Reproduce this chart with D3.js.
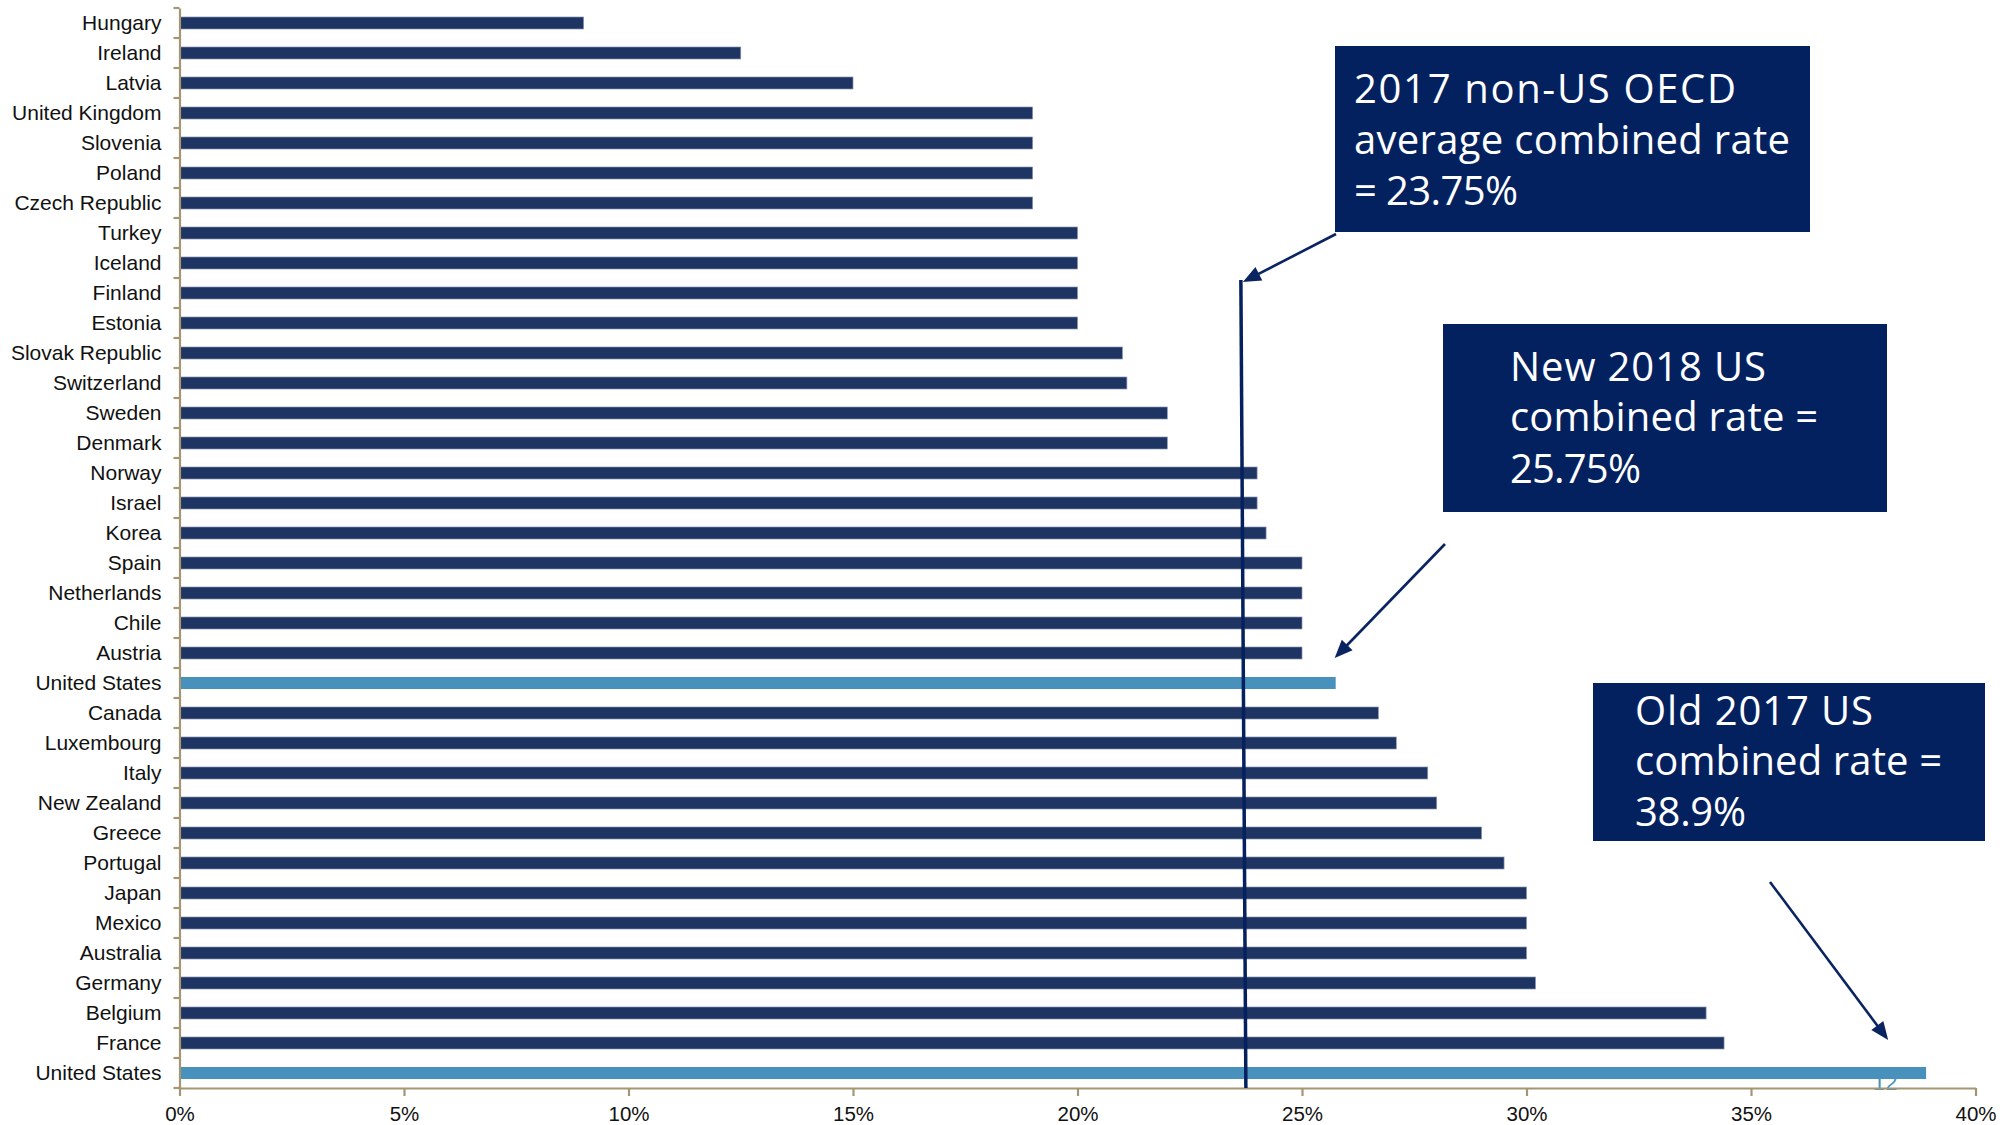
<!DOCTYPE html>
<html>
<head>
<meta charset="utf-8">
<script src="https://cdn.jsdelivr.net/npm/d3@7"></script>
<style>
  html, body { margin: 0; padding: 0; background: #fff; }
  svg { display: block; }
</style>
</head>
<body>
<svg id="chart" width="2011" height="1125"></svg>
<script>
// Combined corporate income tax rates, OECD countries
const countries = [
  "Hungary", "Ireland", "Latvia", "United Kingdom", "Slovenia", "Poland",
  "Czech Republic", "Turkey", "Iceland", "Finland", "Estonia", "Slovak Republic",
  "Switzerland", "Sweden", "Denmark", "Norway", "Israel", "Korea", "Spain",
  "Netherlands", "Chile", "Austria", "United States", "Canada", "Luxembourg",
  "Italy", "New Zealand", "Greece", "Portugal", "Japan", "Mexico", "Australia",
  "Germany", "Belgium", "France", "United States"
];
const rates = [
  9, 12.5, 15, 19, 19, 19,
  19, 20, 20, 20, 20, 21,
  21.1, 22, 22, 24, 24, 24.2, 25,
  25, 25, 25, 25.75, 26.7, 27.1,
  27.8, 28, 29, 29.5, 30, 30, 30,
  30.2, 34, 34.4, 38.9
];
const highlightCountry = "United States";
const xTicks = [0, 5, 10, 15, 20, 25, 30, 35, 40];

const oecdAverage = 23.75;
const usNewRate = 25.75;
const usOldRate = 38.9;

const noteAverage = ["2017 non-US OECD", "average combined rate", "= 23.75%"];
const noteNew = ["New 2018 US", "combined rate =", "25.75%"];
const noteOld = ["Old 2017 US", "combined rate =", "38.9%"];

const svg = d3.select("#chart");

const x = d3.scaleLinear().domain([0, 40]).range([179.5, 1975.5]);
const y = d3.scaleBand()
  .domain(d3.range(countries.length))
  .range([8, 1088])
  .paddingInner(0.6)
  .paddingOuter(0.3);

const axisColor = "#A39673";
const navy = "#1E3462";
const lightBlue = "#4891BC";
const noteFill = "#03215F";

// small page number partly hidden behind the last bar
svg.append("text")
  .attr("x", 1873).attr("y", 1090)
  .attr("font-family", "Liberation Sans, Arial, sans-serif")
  .attr("font-size", 22)
  .attr("fill", lightBlue)
  .text("12");

// bars
svg.append("g")
  .selectAll("rect")
  .data(rates)
  .join("rect")
  .attr("x", x(0))
  .attr("y", (d, i) => y(i))
  .attr("width", d => x(d) - x(0))
  .attr("height", y.bandwidth())
  .attr("fill", (d, i) => countries[i] === highlightCountry ? lightBlue : navy)
  .attr("stroke", (d, i) => countries[i] === highlightCountry ? "none" : "#8793AD")
  .attr("stroke-width", 0.7);

// x axis
const xAxis = svg.append("g")
  .attr("transform", `translate(0,${y.range()[1]})`)
  .call(d3.axisBottom(x).tickValues(xTicks).tickFormat(d => d + "%")
    .tickSize(8).tickSizeOuter(0).tickPadding(10.5));
xAxis.select(".domain").attr("stroke", axisColor).attr("stroke-width", 2.2);
xAxis.selectAll(".tick line").attr("stroke", axisColor).attr("stroke-width", 2.2);
xAxis.selectAll(".tick text")
  .attr("font-family", "Liberation Sans, Arial, sans-serif")
  .attr("font-size", 20.5)
  .attr("fill", "#111");

// y axis with ticks between categories
const yAxis = svg.append("g")
  .attr("transform", `translate(${x(0)},0)`)
  .call(d3.axisLeft(y).tickFormat(i => countries[i]).tickSize(0).tickSizeOuter(0).tickPadding(18));
yAxis.select(".domain").attr("stroke", axisColor).attr("stroke-width", 2.2);
yAxis.selectAll(".tick text")
  .attr("font-family", "Liberation Sans, Arial, sans-serif")
  .attr("font-size", 21)
  .attr("fill", "#111");

const boundaries = d3.range(countries.length + 1)
  .map(i => y.range()[0] + i * y.step());
yAxis.append("g")
  .selectAll("line")
  .data(boundaries)
  .join("line")
  .attr("x1", -6).attr("x2", 0)
  .attr("y1", d => d).attr("y2", d => d)
  .attr("stroke", axisColor)
  .attr("stroke-width", 2.2);

// OECD average line
svg.append("line")
  .attr("x1", x(oecdAverage) - 5).attr("x2", x(oecdAverage))
  .attr("y1", 280).attr("y2", y.range()[1])
  .attr("stroke", "#04205E")
  .attr("stroke-width", 3.5);

// callout boxes
function note(lines, bx, by, bw, bh, tx, baselines, lengths) {
  const g = svg.append("g");
  g.append("rect")
    .attr("x", bx).attr("y", by).attr("width", bw).attr("height", bh)
    .attr("fill", noteFill);
  g.selectAll("text")
    .data(lines)
    .join("text")
    .attr("x", tx)
    .attr("y", (d, i) => baselines[i])
    .attr("textLength", (d, i) => lengths[i])
    .attr("font-family", "Open Sans, Noto Sans, sans-serif")
    .attr("font-size", 40)
    .attr("fill", "#fff")
    .text(d => d);
}
note(noteAverage, 1335, 46, 475, 186, 1354, [103, 154, 205], [382, 436, 164]);
note(noteNew, 1443, 324, 444, 188, 1510, [381, 431, 483], [256, 308, 131]);
note(noteOld, 1593, 683, 392, 158, 1635, [725, 775, 826], [238, 307, 111]);

// arrows
function arrow(from, to) {
  const dx = to[0] - from[0], dy = to[1] - from[1];
  const len = Math.hypot(dx, dy);
  const ux = dx / len, uy = dy / len;
  const headLen = 18, headHalf = 7.5;
  const bx = to[0] - ux * headLen, by = to[1] - uy * headLen;
  svg.append("line")
    .attr("x1", from[0]).attr("y1", from[1])
    .attr("x2", bx + ux * 2).attr("y2", by + uy * 2)
    .attr("stroke", "#0A2462")
    .attr("stroke-width", 2.6);
  svg.append("path")
    .attr("d", d3.line()([
      to,
      [bx - uy * headHalf, by + ux * headHalf],
      [bx + uy * headHalf, by - ux * headHalf]
    ]) + "Z")
    .attr("fill", "#0A2462");
}
const bandCenter = i => y(i) + y.bandwidth() / 2;
arrow([1336, 234], [x(oecdAverage) - 3, 282]);
arrow([1445, 544], [x(usNewRate) - 1, bandCenter(22) - 25]);
arrow([1770, 882], [x(usOldRate) - 38, bandCenter(35) - 33]);
</script>
</body>
</html>
